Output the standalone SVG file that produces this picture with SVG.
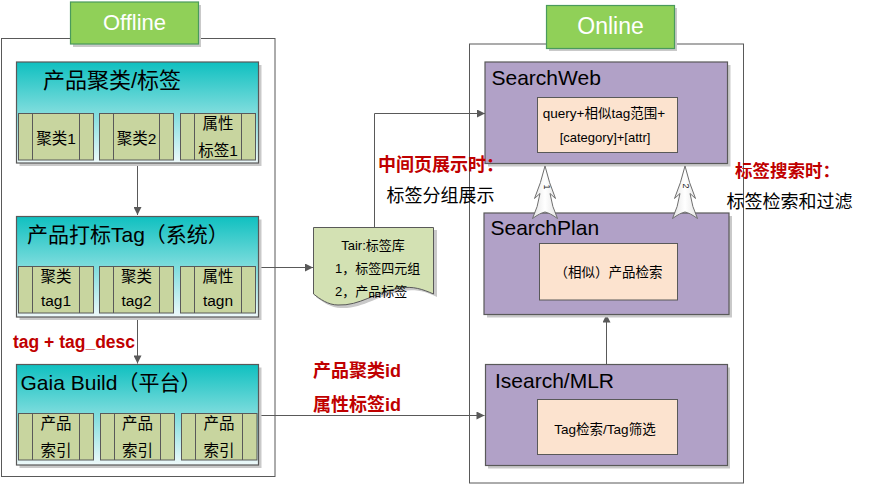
<svg xmlns="http://www.w3.org/2000/svg" width="870" height="485" viewBox="0 0 870 485">
<defs>
<linearGradient id="teal" x1="0" y1="0" x2="0" y2="1">
<stop offset="0" stop-color="#0FC0C0"/>
<stop offset="1" stop-color="#EEF9FA"/>
</linearGradient>
<linearGradient id="chev" x1="0" y1="0" x2="1" y2="0">
<stop offset="0" stop-color="#E4E4E4"/>
<stop offset="0.5" stop-color="#FFFFFF"/>
<stop offset="1" stop-color="#E4E4E4"/>
</linearGradient>
<marker id="arr" viewBox="0 0 10 10" refX="10" refY="5" markerWidth="9" markerHeight="8" markerUnits="userSpaceOnUse" orient="auto">
<path d="M0,0 L10,5 L0,10 Z" fill="#595959"/>
</marker>
</defs>
<style>
.cont{fill:#fff;stroke:#595959;stroke-width:1}
.shadow{fill:#C9C9C9}
.lbl{fill:#90D058;stroke:#4A9A5C;stroke-width:1.2}
.lbltxt{font-family:"Liberation Sans",Arial,sans-serif;font-size:22px;fill:#fff;text-anchor:middle}
.tbox{fill:url(#teal);stroke:#595959;stroke-width:1.2}
.sub{fill:#C8D59F;stroke:#595959;stroke-width:1}
.pbox{fill:#B1A1C7;stroke:#595959;stroke-width:1.2}
.ibox{fill:#FCE3CF;stroke:#595959;stroke-width:1}
.title{font-family:"Liberation Sans","Noto Sans CJK SC",sans-serif;font-size:21px;fill:#000}
.st{font-family:"Liberation Sans","Noto Sans CJK SC",sans-serif;font-size:15.5px;fill:#000;text-anchor:middle}
.it{font-family:"Liberation Sans","Noto Sans CJK SC",sans-serif;font-size:13.5px;fill:#000;text-anchor:middle}
.red{font-family:"Liberation Sans","Noto Sans CJK SC",sans-serif;font-weight:bold;fill:#C00000}
.blk{font-family:"Liberation Sans","Noto Sans CJK SC",sans-serif;fill:#000}
.ln{fill:none;stroke:#595959;stroke-width:1}
.chev{fill:url(#chev);stroke:#6E6E6E;stroke-width:1}
</style>

<!-- containers -->
<g id="offline-container">
<rect class="cont" x="1.5" y="38.5" width="273.5" height="438"/>
</g>
<g id="online-container">
<rect class="cont" x="469.5" y="44" width="274" height="439"/>
</g>

<!-- connectors -->
<g id="connectors">
<path class="ln" d="M137.5,163 V215" marker-end="url(#arr)"/>
<path class="ln" d="M137.5,317 V363.5" marker-end="url(#arr)"/>
<path class="ln" d="M258.5,267.5 H313" marker-end="url(#arr)"/>
<path class="ln" d="M374.5,227 V113.5 H485" marker-end="url(#arr)"/>
<path class="ln" d="M258.5,415.5 H484.5" marker-end="url(#arr)"/>
<path class="ln" d="M606.5,364 V314.5" marker-end="url(#arr)"/>
</g>

<!-- labels -->
<g id="offline-label">
<rect class="shadow" x="73" y="5" width="128" height="42"/>
<rect class="lbl" x="70.5" y="2" width="128" height="42"/>
<text class="lbltxt" x="134.5" y="30">Offline</text>
</g>
<g id="online-label">
<rect class="shadow" x="549" y="8" width="128" height="43"/>
<rect class="lbl" x="546.5" y="5.5" width="128" height="43"/>
<text class="lbltxt" x="610.5" y="33.5" style="font-size:23px">Online</text>
</g>

<!-- Offline boxes -->
<g id="box-cluster">
<rect class="shadow" x="19.5" y="65" width="242" height="101"/>
<rect class="tbox" x="16.5" y="62" width="242" height="101"/>
<text class="title" x="43" y="88" style="font-size:22px">产品聚类/标签</text>
<rect class="sub" x="18.5" y="113.5" width="75" height="46.5"/>
<path class="ln" d="M32.5,113.5 V160 M79.5,113.5 V160"/>
<text class="st" x="56" y="144">聚类1</text>
<rect class="sub" x="99.5" y="113.5" width="74" height="46.5"/>
<path class="ln" d="M113.5,113.5 V160 M159.5,113.5 V160"/>
<text class="st" x="136.5" y="144">聚类2</text>
<rect class="sub" x="180.5" y="113.5" width="75" height="46.5"/>
<path class="ln" d="M194.5,113.5 V160 M241.5,113.5 V160"/>
<text class="st" x="218" y="129">属性</text>
<text class="st" x="218" y="156">标签1</text>
</g>

<g id="box-tagging">
<rect class="shadow" x="19.5" y="219.5" width="242" height="100.5"/>
<rect class="tbox" x="16.5" y="216.5" width="242" height="100.5"/>
<text class="title" x="27" y="242">产品打标Tag（系统）</text>
<rect class="sub" x="18.5" y="266.5" width="75" height="46.5"/>
<path class="ln" d="M32.5,266.5 V313 M79.5,266.5 V313"/>
<text class="st" x="56" y="282">聚类</text>
<text class="st" x="56" y="306">tag1</text>
<rect class="sub" x="99.5" y="266.5" width="74" height="46.5"/>
<path class="ln" d="M113.5,266.5 V313 M159.5,266.5 V313"/>
<text class="st" x="136.5" y="282">聚类</text>
<text class="st" x="136.5" y="306">tag2</text>
<rect class="sub" x="180.5" y="266.5" width="75" height="46.5"/>
<path class="ln" d="M194.5,266.5 V313 M241.5,266.5 V313"/>
<text class="st" x="218" y="282">属性</text>
<text class="st" x="218" y="306">tagn</text>
</g>

<g id="box-gaia">
<rect class="shadow" x="19.5" y="367.5" width="242" height="100.5"/>
<rect class="tbox" x="16.5" y="364.5" width="242" height="100.5"/>
<text class="title" x="20.5" y="390">Gaia Build（平台）</text>
<rect class="sub" x="18.5" y="413.5" width="75" height="46.5"/>
<path class="ln" d="M32.5,413.5 V460 M79.5,413.5 V460"/>
<text class="st" x="56" y="429">产品</text>
<text class="st" x="56" y="456">索引</text>
<rect class="sub" x="100.5" y="413.5" width="74" height="46.5"/>
<path class="ln" d="M114.5,413.5 V460 M160.5,413.5 V460"/>
<text class="st" x="137.5" y="429">产品</text>
<text class="st" x="137.5" y="456">索引</text>
<rect class="sub" x="181.5" y="413.5" width="75.5" height="46.5"/>
<path class="ln" d="M195.5,413.5 V460 M242.5,413.5 V460"/>
<text class="st" x="219" y="429">产品</text>
<text class="st" x="219" y="456">索引</text>
</g>

<!-- Tair -->
<g id="tair">
<path d="M316,230 H437 V297 C426,292 417,289 403,291 C378,295 363,309 341,308 C331,308 323,302 316,297 Z" fill="#C9C9C9"/>
<path d="M313.5,227.5 H433.5 V294 C422,289 413,286 400,288 C375,292 360,306 338,305 C328,305 320,299 313.5,294 Z" fill="#D3E1B3" stroke="#595959" stroke-width="1"/>
<text class="blk" x="373" y="250" style="font-size:13px" text-anchor="middle">Tair:标签库</text>
<text class="blk" x="335" y="273" style="font-size:13px">1，标签四元组</text>
<text class="blk" x="335" y="295.5" style="font-size:13px">2，产品标签</text>
</g>

<!-- Online boxes -->
<g id="searchweb">
<rect class="shadow" x="488" y="65" width="242.5" height="101.5"/>
<rect class="pbox" x="485" y="62" width="242.5" height="101.5"/>
<text class="title" x="491.5" y="85">SearchWeb</text>
<rect class="ibox" x="537.5" y="97.5" width="140" height="55"/>
<text class="it" x="604" y="118">query+相似tag范围+</text>
<text class="it" x="605" y="141.5" style="font-size:13px">[category]+[attr]</text>
</g>

<g id="searchplan">
<rect class="shadow" x="487" y="216" width="245" height="101.5"/>
<rect class="pbox" x="484" y="213" width="245" height="101.5"/>
<text class="title" x="490.5" y="235">SearchPlan</text>
<rect class="ibox" x="539.5" y="243.5" width="138" height="56.5"/>
<text class="it" x="608.5" y="277">（相似）产品检索</text>
</g>

<g id="isearch">
<rect class="shadow" x="488" y="367.5" width="242" height="101"/>
<rect class="pbox" x="485.5" y="364.5" width="242" height="101"/>
<text class="title" x="495" y="388">Isearch/MLR</text>
<rect class="ibox" x="537.5" y="399.5" width="140" height="55"/>
<text class="it" x="605" y="433.5">Tag检索/Tag筛选</text>
</g>

<!-- chevron arrows -->
<g id="chevron-1">
<path class="chev" d="M545,166 Q549,183 555.5,198.5 L550,193.5 Q552,207 557.5,218.5 Q550,213 545,212 Q540,213 532.5,218.5 Q538,207 540,193.5 L534.5,198.5 Q541,183 545,166 Z"/>
<text x="546" y="187" transform="rotate(90 546 187)" style="font-family:'Liberation Sans',sans-serif;font-size:9px" fill="#222" text-anchor="middle" dominant-baseline="middle">1</text>
</g>
<g id="chevron-2">
<path class="chev" d="M685,166 Q689,183 695.5,198.5 L690,193.5 Q692,207 697.5,218.5 Q690,213 685,212 Q680,213 672.5,218.5 Q678,207 680,193.5 L674.5,198.5 Q681,183 685,166 Z"/>
<text x="685.5" y="186" transform="rotate(90 685.5 186)" style="font-family:'Liberation Sans',sans-serif;font-size:9px" fill="#222" text-anchor="middle" dominant-baseline="middle">2</text>
</g>

<!-- annotation texts -->
<g id="annotations">
<text class="red" x="13" y="348" style="font-size:17.5px">tag + tag_desc</text>
<text class="red" x="313" y="377" style="font-size:18px">产品聚类id</text>
<text class="red" x="313" y="410.5" style="font-size:18px">属性标签id</text>
<text class="red" x="378" y="171" style="font-size:18px">中间页展示时：</text>
<text class="blk" x="386.5" y="202" style="font-size:18px">标签分组展示</text>
<text class="red" x="735" y="177" style="font-size:17.5px">标签搜索时：</text>
<text class="blk" x="726.5" y="208" style="font-size:18px">标签检索和过滤</text>
</g>
</svg>
